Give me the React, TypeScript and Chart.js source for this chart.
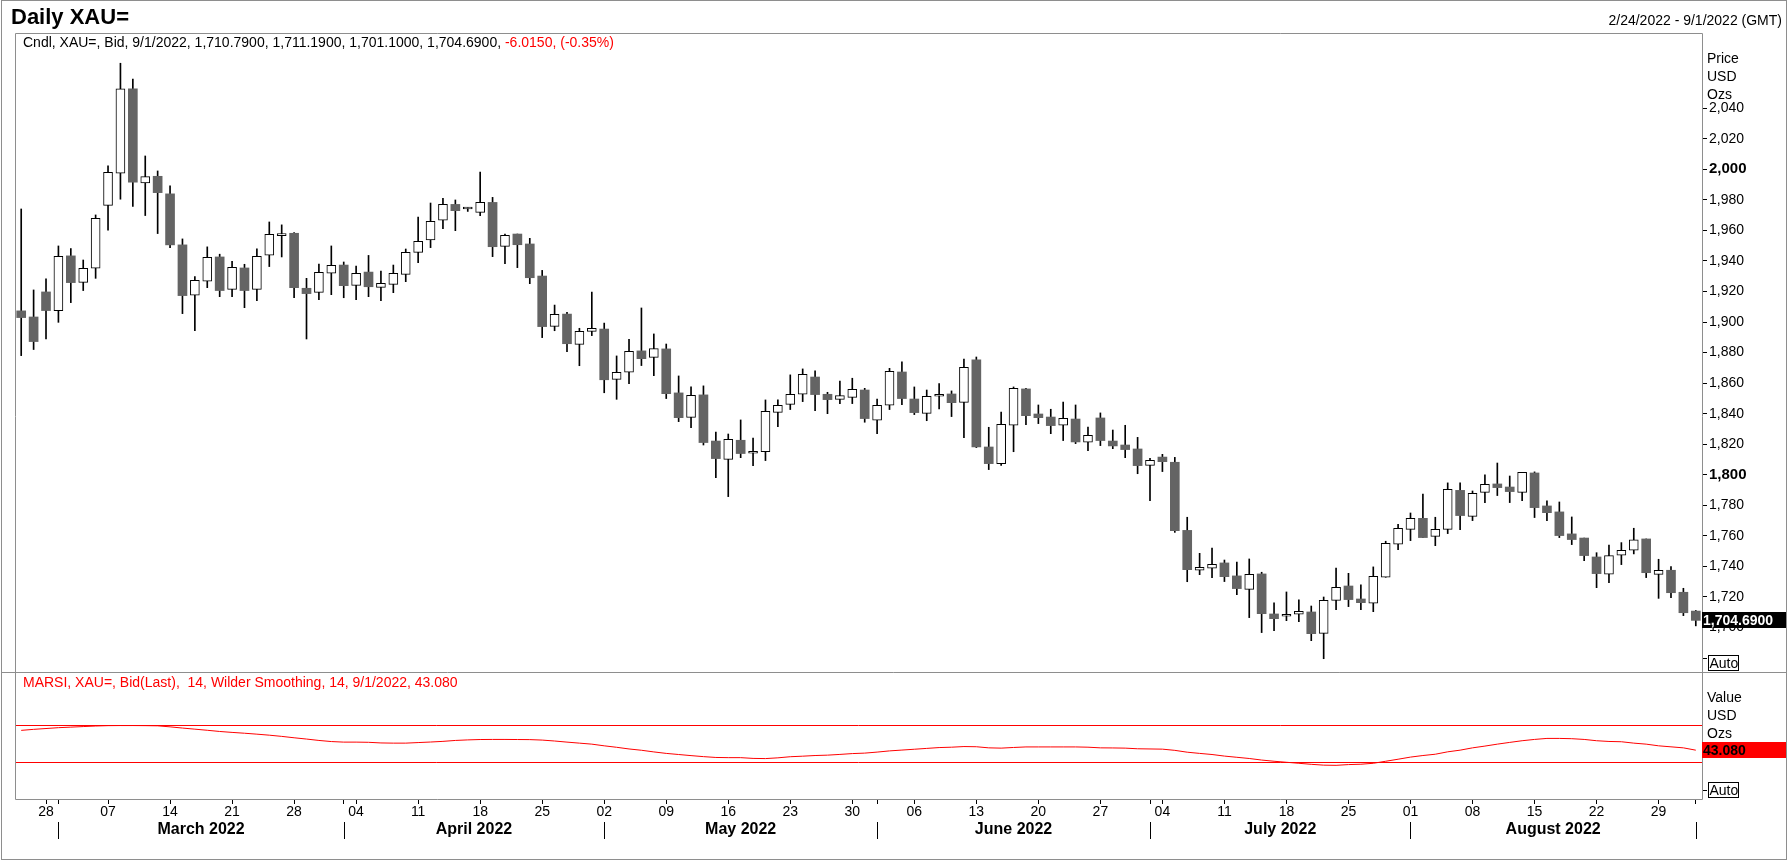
import React, { useEffect, useRef } from "react";
import { Chart, registerables } from "chart.js";
Chart.register(...registerables);

const FONT = "'Liberation Sans', Arial, Helvetica, sans-serif";

const dates = [
  "2/24","2/25","2/28",
  "3/1","3/2","3/3","3/4","3/7","3/8","3/9","3/10","3/11","3/14","3/15","3/16","3/17","3/18","3/21","3/22","3/23","3/24","3/25","3/28","3/29","3/30","3/31",
  "4/1","4/4","4/5","4/6","4/7","4/8","4/11","4/12","4/13","4/14","4/15","4/18","4/19","4/20","4/21","4/22","4/25","4/26","4/27","4/28","4/29",
  "5/2","5/3","5/4","5/5","5/6","5/9","5/10","5/11","5/12","5/13","5/16","5/17","5/18","5/19","5/20","5/23","5/24","5/25","5/26","5/27","5/30","5/31",
  "6/1","6/2","6/3","6/6","6/7","6/8","6/9","6/10","6/13","6/14","6/15","6/16","6/17","6/20","6/21","6/22","6/23","6/24","6/27","6/28","6/29","6/30",
  "7/1","7/4","7/5","7/6","7/7","7/8","7/11","7/12","7/13","7/14","7/15","7/18","7/19","7/20","7/21","7/22","7/25","7/26","7/27","7/28","7/29",
  "8/1","8/2","8/3","8/4","8/5","8/8","8/9","8/10","8/11","8/12","8/15","8/16","8/17","8/18","8/19","8/22","8/23","8/24","8/25","8/26","8/29","8/30","8/31",
  "9/1"
];

const opens = [
  1907.3,1903.3,1919.7,1907.5,1943.3,1926.0,1935.2,1976.4,1997.4,2052.6,
  1991.1,1995.4,1983.9,1950.5,1917.5,1926.7,1942.6,1921.4,1935.4,1921.4,
  1943.7,1956.6,1958.1,1922.1,1919.4,1931.9,1937.3,1924.0,1932.7,1922.7,
  1924.6,1931.2,1945.6,1953.7,1966.6,1977.0,1974.0,1971.8,1978.3,1949.5,
  1957.6,1951.1,1930.1,1897.2,1905.2,1885.4,1893.9,1895.4,1862.5,1867.1,
  1881.1,1876.9,1882.4,1853.6,1837.6,1852.3,1822.1,1810.1,1822.6,1814.1,
  1815.2,1840.9,1846.1,1852.7,1864.0,1852.7,1849.4,1850.7,1855.5,1835.7,
  1845.5,1867.3,1849.6,1840.2,1851.4,1852.9,1847.4,1875.2,1818.2,1807.3,
  1832.4,1856.2,1839.8,1837.8,1832.4,1836.5,1821.3,1837.2,1822.1,1819.5,
  1816.9,1806.2,1811.6,1808.2,1763.6,1737.5,1738.8,1742.3,1733.8,1725.0,
  1735.1,1708.9,1707.4,1708.7,1710.2,1696.2,1717.8,1727.2,1718.7,1715.9,
  1732.9,1754.5,1764.3,1771.5,1759.7,1764.3,1789.8,1772.8,1788.5,1794.0,
  1792.0,1788.5,1801.2,1779.6,1775.7,1761.3,1758.6,1746.2,1734.9,1747.3,
  1750.6,1758.0,1734.8,1737.5,1723.1,1710.79
];

const highs = [
  1974.0,1921.0,1928.2,1949.8,1948.1,1940.6,1970.1,2002.2,2069.4,2059.1,
  2008.7,1998.9,1989.1,1954.4,1929.7,1949.2,1944.4,1939.8,1937.8,1947.9,
  1965.5,1963.6,1958.5,1928.6,1938.0,1949.8,1939.3,1936.7,1943.6,1933.4,
  1937.3,1947.8,1968.7,1977.9,1981.0,1979.9,1975.1,1998.2,1981.6,1957.6,
  1957.6,1954.8,1933.8,1911.1,1906.3,1895.9,1919.6,1899.3,1877.8,1888.7,
  1909.2,1892.2,1885.6,1864.7,1857.5,1858.2,1828.0,1826.7,1835.9,1824.1,
  1849.0,1849.0,1865.4,1869.3,1868.0,1854.0,1861.4,1863.2,1856.6,1849.6,
  1869.7,1873.9,1857.5,1855.5,1859.7,1854.9,1875.8,1877.1,1831.1,1841.1,
  1857.5,1856.6,1845.7,1842.9,1847.6,1845.7,1831.3,1840.5,1829.3,1832.4,
  1824.5,1810.8,1813.4,1811.4,1772.2,1748.6,1752.1,1744.2,1742.9,1744.9,
  1736.2,1716.1,1723.3,1718.1,1714.1,1720.0,1739.0,1735.5,1727.9,1739.7,
  1756.5,1767.6,1775.0,1787.4,1772.2,1794.7,1794.7,1789.4,1799.9,1807.7,
  1799.2,1801.6,1801.9,1782.9,1782.2,1772.4,1758.6,1749.0,1754.0,1755.6,
  1765.0,1758.0,1744.7,1739.9,1725.7,1711.19
];

const lows = [
  1878.0,1882.0,1888.9,1899.8,1912.7,1920.6,1928.6,1960.1,1980.4,1975.6,
  1969.7,1957.9,1948.7,1905.5,1894.4,1922.5,1916.6,1916.6,1909.4,1914.0,
  1936.3,1942.6,1916.0,1888.9,1914.6,1917.9,1915.9,1914.6,1916.6,1914.0,
  1919.2,1926.4,1938.8,1948.7,1961.1,1959.8,1972.4,1969.6,1942.8,1938.2,
  1935.6,1925.1,1889.8,1894.3,1880.6,1871.4,1891.1,1853.7,1849.4,1859.7,
  1871.5,1864.9,1849.9,1834.8,1830.9,1819.5,1798.1,1785.7,1811.2,1806.0,
  1809.3,1831.5,1842.7,1847.9,1842.0,1840.0,1846.6,1846.6,1834.4,1826.9,
  1842.7,1845.9,1839.4,1835.4,1843.1,1838.1,1824.3,1817.8,1803.4,1806.2,
  1815.1,1832.8,1833.5,1826.9,1822.4,1820.4,1815.8,1819.1,1817.1,1811.2,
  1800.7,1783.1,1802.1,1762.3,1730.0,1734.6,1732.7,1730.1,1721.5,1706.5,
  1696.7,1698.0,1704.5,1703.9,1691.4,1679.6,1711.7,1713.7,1711.7,1710.4,
  1732.9,1751.0,1756.9,1758.9,1753.6,1761.5,1764.1,1770.0,1781.8,1786.4,
  1781.8,1783.1,1772.0,1770.0,1758.9,1754.3,1743.8,1726.1,1729.4,1741.2,
  1748.2,1732.7,1719.1,1719.6,1707.8,1701.10
];

const closes = [
  1902.9,1887.2,1907.5,1943.0,1925.8,1935.2,1967.9,1998.0,2052.6,1991.5,
  1995.2,1984.7,1950.5,1917.3,1927.3,1942.4,1920.6,1935.8,1920.6,1943.0,
  1957.4,1957.0,1922.5,1918.6,1932.5,1937.1,1923.8,1931.9,1923.1,1925.3,
  1931.9,1945.6,1952.8,1965.9,1977.0,1972.9,1974.3,1978.3,1949.3,1956.7,
  1950.6,1929.0,1897.0,1905.0,1885.8,1893.9,1895.9,1862.2,1867.1,1880.8,
  1876.0,1882.6,1853.1,1837.4,1852.0,1821.1,1810.6,1823.2,1813.9,1815.4,
  1841.6,1845.5,1852.7,1865.8,1852.5,1849.2,1851.8,1856.0,1836.8,1845.5,
  1867.8,1849.9,1840.7,1851.4,1852.7,1847.2,1870.4,1818.2,1807.3,1833.0,
  1856.6,1838.7,1837.4,1832.2,1837.0,1821.5,1825.8,1822.4,1818.9,1816.5,
  1806.0,1809.5,1808.6,1763.4,1737.9,1739.4,1741.4,1733.3,1725.5,1734.8,
  1709.1,1705.8,1708.7,1710.6,1696.0,1717.8,1726.3,1718.3,1716.3,1733.5,
  1755.2,1765.0,1771.5,1758.9,1764.3,1790.5,1773.3,1787.9,1793.8,1791.6,
  1789.0,1801.6,1778.5,1775.2,1760.2,1757.6,1747.1,1735.3,1747.1,1750.6,
  1757.5,1735.9,1737.5,1722.8,1709.7,1704.69
];

const rsiValues = [
  64.5,65.6,66.5,67.4,68.0,68.6,69.2,69.6,69.7,69.7,
  69.6,69.4,68.3,67.0,65.8,64.6,63.3,62.3,61.4,60.4,
  59.3,58.0,56.5,55.1,53.6,52.4,51.8,51.8,51.6,50.9,
  50.7,50.7,51.3,51.9,52.6,53.6,54.2,54.6,54.7,54.7,
  54.6,54.5,54.0,53.0,51.8,50.7,49.6,47.8,46.2,44.4,
  43.0,41.2,39.6,38.4,37.2,36.1,35.2,35.0,35.0,34.2,
  34.0,34.8,36.0,36.6,37.3,37.7,38.5,39.4,39.9,41.0,
  42.3,43.2,44.1,45.0,45.9,46.3,47.0,46.8,45.6,45.3,
  46.0,46.6,46.6,46.6,46.6,46.6,46.3,45.6,45.5,45.3,
  44.6,44.4,44.2,42.9,40.9,39.6,38.4,36.7,35.4,34.1,
  32.4,31.1,30.0,28.9,27.8,26.9,26.7,27.5,27.9,28.9,
  31.1,33.3,35.6,37.3,38.7,41.3,43.1,45.6,47.5,49.6,
  51.5,53.3,54.7,55.8,55.8,55.5,54.7,53.3,52.5,52.2,
  50.7,49.6,47.8,46.7,45.6,43.08
];

const priceTicks = [1680,1700,1720,1740,1760,1780,1800,1820,1840,1860,1880,1900,1920,1940,1960,1980,2000,2020,2040];
const boldTicks = [2000, 1800];
const rsiLevels = [30, 70];
const rsiTicks = [0, 30, 70];
const monthLabels = ["March 2022","April 2022","May 2022","June 2022","July 2022","August 2022"];
const priceUnits = ["Price","USD","Ozs"];
const rsiUnits = ["Value","USD","Ozs"];
const titleText = "Daily XAU=";
const rangeText = "2/24/2022 - 9/1/2022 (GMT)";
const changeText = "-6.0150, (-0.35%)";

const fmt = (v: number, d = 0) =>
  v.toLocaleString("en-US", { minimumFractionDigits: d, maximumFractionDigits: d });

export default function App() {
  const ref = useRef<HTMLCanvasElement | null>(null);

  useEffect(() => {
    document.body.style.margin = "0";
    const canvas = ref.current!;
    const n = dates.length;
    const parsed = dates.map((s) => {
      const [m, d] = s.split("/").map(Number);
      return { m, d, dow: new Date(2022, m - 1, d).getDay() };
    });
    const isMonday = parsed.map((p) => p.dow === 1);
    const monthStarts: number[] = [];
    parsed.forEach((p, i) => { if (i > 0 && p.m !== parsed[i - 1].m) monthStarts.push(i); });
    const isMonthStart = parsed.map((_, i) => monthStarts.includes(i));
    const last = n - 1;

    const overlay = {
      id: "overlay",
      afterDraw(chart: any) {
        const { ctx, chartArea: ca, scales } = chart;
        const xs = scales.x, ys = scales.y, y2 = scales.y2;
        ctx.save();
        // frames
        ctx.strokeStyle = "#8e8e8e";
        ctx.lineWidth = 1;
        ctx.strokeRect(1.5, 0.5, 1785, 859);
        ctx.beginPath();
        ctx.moveTo(ca.left + 0.5, ca.bottom + 0.5);
        ctx.lineTo(ca.left + 0.5, ca.top + 0.5);
        ctx.lineTo(ca.right + 0.5, ca.top + 0.5);
        ctx.lineTo(ca.right + 0.5, ca.bottom + 0.5);
        ctx.lineTo(ca.left + 0.5, ca.bottom + 0.5);
        ctx.moveTo(1.5, ys.bottom + 0.5);
        ctx.lineTo(1786, ys.bottom + 0.5);
        ctx.stroke();

        // title + range
        ctx.fillStyle = "#000";
        ctx.textBaseline = "alphabetic";
        ctx.textAlign = "left";
        ctx.font = `bold 22px ${FONT}`;
        ctx.fillText(titleText, 11, 24);
        ctx.font = `14px ${FONT}`;
        ctx.textAlign = "right";
        ctx.fillText(rangeText, 1782, 25);

        // legends
        ctx.textAlign = "left";
        const leg = `Cndl, XAU=, Bid, ${dates[last]}/2022, ${fmt(opens[last], 4)}, ${fmt(highs[last], 4)}, ${fmt(lows[last], 4)}, ${fmt(closes[last], 4)}, `;
        ctx.fillText(leg, 23, ca.top + 14);
        const w = ctx.measureText(leg).width;
        ctx.fillStyle = "#ff0000";
        ctx.fillText(changeText, 23 + w, ca.top + 14);
        ctx.fillText(`MARSI, XAU=, Bid(Last),  14, Wilder Smoothing, 14, ${dates[last]}/2022, ${rsiValues[last].toFixed(3)}`, 23, y2.top + 15);

        // unit labels
        ctx.fillStyle = "#000";
        priceUnits.forEach((t, k) => ctx.fillText(t, 1707, ys.top + 30 + k * 18));
        rsiUnits.forEach((t, k) => ctx.fillText(t, 1707, y2.top + 30 + k * 18));

        // Auto boxes
        [ys.bottom, y2.bottom].forEach((b: number) => {
          ctx.fillStyle = "#fff";
          ctx.fillRect(1708, b - 16, 30, 15);
          ctx.strokeStyle = "#000";
          ctx.strokeRect(1708.5, b - 16.5, 30, 15);
          ctx.fillStyle = "#000";
          ctx.font = `14px ${FONT}`;
          ctx.fillText("Auto", 1709.5, b - 4);
        });

        // last value boxes
        const yc = ys.getPixelForValue(closes[last]);
        ctx.fillStyle = "#000";
        ctx.fillRect(1702, Math.round(yc) - 8, 84, 16);
        ctx.fillStyle = "#fff";
        ctx.font = `bold 14px ${FONT}`;
        ctx.fillText(fmt(closes[last], 4), 1703, Math.round(yc) + 5);
        const yr = y2.getPixelForValue(rsiValues[last]);
        ctx.fillStyle = "#ff0000";
        ctx.fillRect(1702, Math.round(yr) - 8, 84, 16);
        ctx.fillStyle = "#000";
        ctx.fillText(rsiValues[last].toFixed(3), 1703, Math.round(yr) + 5);

        // month separators + labels
        ctx.strokeStyle = "#000";
        ctx.lineWidth = 1;
        ctx.beginPath();
        monthStarts.forEach((i) => {
          const x = Math.round(xs.getPixelForValue(i)) + 0.5;
          ctx.moveTo(x, xs.top + 23);
          ctx.lineTo(x, xs.top + 40);
        });
        ctx.stroke();
        ctx.font = `bold 16px ${FONT}`;
        ctx.textAlign = "center";
        monthLabels.forEach((t, k) => {
          const a = xs.getPixelForValue(monthStarts[k]);
          const b = xs.getPixelForValue(monthStarts[k + 1]);
          ctx.fillText(t, (a + b) / 2, xs.top + 35);
        });
        ctx.restore();
      },
    };

    const chart = new Chart(canvas, {
      type: "bar",
      data: {
        labels: dates,
        datasets: [
          {
            type: "line",
            label: "MARSI",
            data: rsiValues,
            yAxisID: "y2",
            borderColor: "#ff0000",
            borderWidth: 1,
            pointRadius: 0,
            tension: 0,
            order: 0,
          } as any,
          {
            label: "body",
            data: opens.map((o, i) => [o, closes[i]]),
            yAxisID: "y",
            backgroundColor: opens.map((o, i) => (closes[i] >= o ? "#ffffff" : "#646464")),
            borderColor: opens.map((o, i) => (closes[i] >= o ? "#000000" : "#646464")),
            borderWidth: opens.map((o, i) => (closes[i] >= o ? 1 : 0)),
            borderSkipped: false,
            barThickness: 9,
            minBarLength: 2,
            grouped: false,
            order: 1,
          } as any,
          {
            label: "wick",
            data: lows.map((l, i) => [l, highs[i]]),
            yAxisID: "y",
            backgroundColor: "#000000",
            borderWidth: 0,
            barThickness: 1,
            grouped: false,
            order: 2,
          } as any,
        ],
      },
      options: {
        responsive: false,
        animation: false,
        events: [],
        layout: { padding: { left: 15, top: 33, right: 0, bottom: 0 } },
        plugins: { legend: { display: false }, tooltip: { enabled: false } },
        scales: {
          x: {
            type: "category",
            offset: true,
            border: { display: false },
            grid: {
              offset: false,
              drawOnChartArea: false,
              drawTicks: true,
              tickLength: 5,
              color: (c: any) => (isMonday[c.index] || isMonthStart[c.index] ? "#000" : "rgba(0,0,0,0)"),
              tickColor: (c: any) => (isMonday[c.index] || isMonthStart[c.index] ? "#000" : "rgba(0,0,0,0)"),
            },
            ticks: {
              autoSkip: false,
              maxRotation: 0,
              minRotation: 0,
              padding: 0,
              color: "#000",
              font: { family: FONT, size: 14 },
              callback: (_v: any, i: number) => (isMonday[i] ? String(parsed[i].d).padStart(2, "0") : ""),
            },
            afterFit: (s: any) => { s.height = 63; },
          },
          y: {
            type: "linear",
            position: "right",
            stack: "panes",
            stackWeight: 639,
            weight: 0,
            min: 1670.9,
            max: 2089.2,
            border: { display: false },
            grid: { drawOnChartArea: false, drawTicks: true, tickLength: 5, color: "#000", tickColor: "#000" },
            afterBuildTicks: (s: any) => { s.ticks = priceTicks.map((v) => ({ value: v })); },
            ticks: {
              autoSkip: false,
              padding: 2,
              color: "#000",
              font: (c: any) => {
                const b = c.tick && boldTicks.includes(c.tick.value);
                return { family: FONT, size: b ? 15 : 14, weight: b ? "bold" : "normal" };
              },
              callback: (v: any) => (v === priceTicks[0] ? "" : fmt(Number(v))),
            },
            afterFit: (s: any) => { s.width = 86; },
          } as any,
          y2: {
            type: "linear",
            position: "right",
            stack: "panes",
            stackWeight: 127,
            weight: 1,
            min: -9.7,
            max: 127.6,
            border: { display: false },
            grid: {
              drawOnChartArea: true,
              drawTicks: true,
              tickLength: 5,
              lineWidth: 1,
              color: (c: any) => (c.tick && rsiLevels.includes(c.tick.value) ? "#ff0000" : "rgba(0,0,0,0)"),
              tickColor: (c: any) => (c.tick && c.tick.value === 0 ? "#000" : "rgba(0,0,0,0)"),
            },
            afterBuildTicks: (s: any) => { s.ticks = rsiTicks.map((v) => ({ value: v })); },
            ticks: { autoSkip: false, padding: 2, callback: () => "" },
            afterFit: (s: any) => { s.width = 86; },
          } as any,
        },
      },
      plugins: [overlay],
    } as any);
    return () => chart.destroy();
  }, []);

  return (
    <div style={{ position: "absolute", left: 0, top: 0, width: 1788, height: 862, background: "#fff" }}>
      <canvas ref={ref} width={1788} height={862} style={{ display: "block", width: 1788, height: 862 }} />
    </div>
  );
}
